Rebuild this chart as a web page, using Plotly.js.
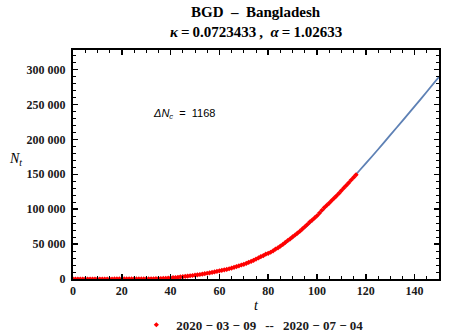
<!DOCTYPE html>
<html>
<head>
<meta charset="utf-8">
<script src="https://cdn.plot.ly/plotly-3.0.1.min.js"></script>
<style>
  html, body { margin: 0; padding: 0; background: #fff; }
  #chart { width: 450px; height: 335px; }
</style>
</head>
<body>
<div id="chart"></div>
<script>
// observed cumulative cases, one per day from t = 0
const cases = [
    0, 3, 3, 3, 3, 3, 3, 3, 5, 8,
    10, 14, 17, 20, 24, 27, 33, 39, 39, 44,
    48, 48, 48, 49, 51, 54, 56, 61, 70, 88,
    123, 164, 218, 330, 424, 482, 621, 803, 1012, 1231,
    1572, 1838, 2144, 2456, 2948, 3382, 3772, 4186, 4689, 4998,
    5416, 5913, 6462, 7103, 7667, 8238, 8790, 9455, 10143, 10929,
    11719, 12425, 13134, 13770, 14657, 15691, 16660, 17822, 18863, 20065,
    20995, 22268, 23870, 25121, 26738, 28511, 30205, 32078, 33610, 35585,
    36751, 38292, 40321, 42844, 44608, 47153, 49534, 52445, 55140, 57563,
    60391, 63026, 65769, 68504, 71675, 74865, 78052, 81523, 84379, 87520,
    90619, 94481, 98489, 102292, 105535, 108775, 112306, 115786, 119198, 122660,
    126606, 130474, 133978, 137787, 141801, 145483, 149258
];

// fitted curve, sampled every 5 days
const modelT = [0, 5, 10, 15, 20, 25, 30, 35, 40, 45, 50, 55, 60, 65, 70, 75,
    80, 85, 90, 95, 100, 105, 110, 115, 120, 125, 130, 135, 140, 145, 150];
const modelN = [0, 0, 0, 5, 20, 60, 170, 450, 1100, 2500, 4700, 7700, 11500, 16000, 21500, 28200,
    36300, 46300, 58800, 73200, 89800, 107800, 126800, 146000, 165500, 185500, 206000, 226500, 247200, 268200, 289500];

const titleLine1 = 'BGD  \u2013  Bangladesh';
const titleLine2 = '<i>\u03ba</i>\u2009=\u20090.0723433\u2009,  <i>\u03b1</i>\u2009=\u20091.02633';
const legendText = '2020 \u2212 03 \u2212 09  \u2009--\u2009  2020 \u2212 07 \u2212 04';
const deltaText = '<i>\u0394N</i><sub><i>c</i></sub>  =  1168';

const serif = 'Liberation Serif, Times New Roman, serif';

let tDays = cases.map((v, i) => i);

let data = [{
    x: modelT,
    y: modelN,
    mode: 'lines',
    line: { color: '#5E81B5', width: 1.8, shape: 'spline', smoothing: 0.6 },
    showlegend: false,
    hoverinfo: 'skip',
}, {
    x: tDays,
    y: cases,
    mode: 'markers',
    name: legendText,
    marker: { symbol: 'diamond', color: '#ff0000', size: 4 },
}];

let axisCommon = {
    showline: true,
    linecolor: '#000',
    linewidth: 2,
    mirror: 'ticks',
    ticks: 'inside',
    ticklen: 5,
    tickwidth: 1.5,
    tickcolor: '#000',
    showgrid: false,
    zeroline: false,
    exponentformat: 'none',
    tickfont: { family: serif, size: 12, color: '#1a1a1a', weight: 'bold' },
};

let layout = {
    width: 450,
    height: 335,
    margin: { l: 73, r: 11, t: 50, b: 56, pad: 0, autoexpand: false },
    separators: '. ',
    xaxis: Object.assign({}, axisCommon, {
        range: [0, 150],
        dtick: 20,
        tick0: 0,
        minor: { dtick: 5, ticklen: 3, tickwidth: 1, tickcolor: '#000', ticks: 'inside' },
    }),
    yaxis: Object.assign({}, axisCommon, {
        range: [0, 328000],
        dtick: 50000,
        tick0: 0,
        separatethousands: true,
        ticksuffix: ' ',
        minor: { dtick: 10000, ticklen: 3, tickwidth: 1, tickcolor: '#000', ticks: 'inside' },
    }),
    showlegend: true,
    legend: {
        orientation: 'h',
        x: 0.49, xanchor: 'center',
        y: -0.2, yanchor: 'middle',
        font: { family: serif, size: 13, color: '#1a1a1a', weight: 'bold' },
        itemwidth: 30,
    },
    annotations: [{
        text: '<b>' + titleLine1 + '</b>',
        xref: 'paper', yref: 'paper', x: 0.5, y: 1.166, yanchor: 'middle',
        showarrow: false, font: { family: serif, size: 15, color: '#000' },
    }, {
        text: '<b>' + titleLine2 + '</b>',
        xref: 'paper', yref: 'paper', x: 0.5, y: 1.079, yanchor: 'middle',
        showarrow: false, font: { family: serif, size: 15, color: '#000' },
    }, {
        text: '<i>t</i>',
        xref: 'paper', yref: 'paper', x: 0.5, y: -0.115, yanchor: 'middle',
        showarrow: false, font: { family: serif, size: 14, color: '#000' },
    }, {
        text: '<i>N</i><sub><i>t</i></sub>',
        xref: 'paper', yref: 'paper', x: -0.158, y: 0.52, xanchor: 'center',
        showarrow: false, font: { family: serif, size: 14, color: '#000' },
    }, {
        text: deltaText,
        xref: 'paper', yref: 'paper', x: 0.212, y: 0.76, xanchor: 'left',
        showarrow: false, font: { family: 'Liberation Sans, Arial, sans-serif', size: 11, color: '#000' },
    }],
    paper_bgcolor: '#ffffff',
    plot_bgcolor: '#ffffff',
};

let config = { staticPlot: true };

Plotly.newPlot('chart', data, layout, config);
</script>
</body>
</html>
